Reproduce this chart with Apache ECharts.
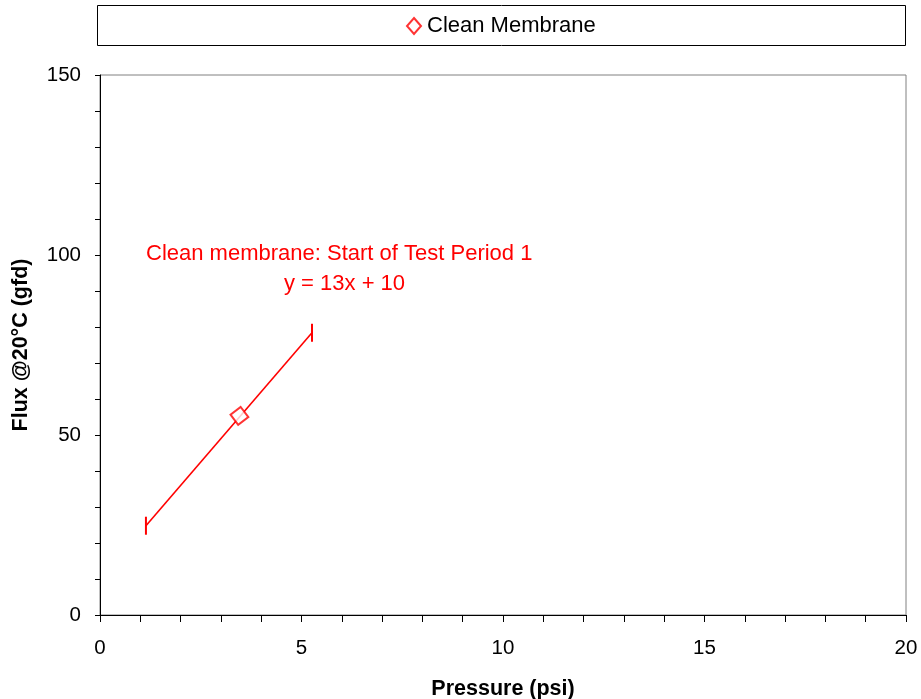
<!DOCTYPE html>
<html><head><meta charset="utf-8">
<script src="https://cdn.jsdelivr.net/npm/echarts@6/dist/echarts.min.js"></script>
<style>html,body{margin:0;padding:0;background:#fff}#c{width:921px;height:699px}</style>
</head><body><div id="c"></div>
<script>
const trendX = [1.14, 5.26];
const trendY = [24.8, 78.4];
const pointX = [3.46];
const pointY = [55.3];
const seriesName = 'Clean Membrane';
const annotation1 = 'Clean membrane: Start of Test Period 1';
const annotation2 = 'y = 13x + 10';
const xTickLabels = [0, 5, 10, 15, 20];
const yTickLabels = [0, 50, 100, 150];

const font = 'Liberation Sans, Arial, sans-serif';
const chart = echarts.init(document.getElementById('c'));
chart.setOption({
  animation: false,
  backgroundColor: '#fff',
  grid: {left: 100, right: 15, top: 75, bottom: 84, show: true, borderColor: '#808080', borderWidth: 1,
    containLabel: false, outerBoundsMode: 'none'},
  legend: {
    data: [{name: seriesName, icon: 'path://M7,0 L14,8 L7,16 L0,8 Z'}],
    left: 401, top: 10, itemWidth: 14, itemHeight: 16, itemGap: 4,
    textStyle: {fontFamily: font, fontSize: 22, color: '#000', padding: [0, 0, 0, 1]},
    selectedMode: false
  },
  graphic: [
    {type: 'rect', shape: {x: 97.5, y: 5.5, width: 808, height: 40}, style: {fill: 'none', stroke: '#000', lineWidth: 1}, z: -1},
    {type: 'text', left: 146, top: 243, style: {text: annotation1, fill: '#ff0000', font: '22px ' + font}},
    {type: 'text', left: 284, top: 273, style: {text: annotation2, fill: '#ff0000', font: '22px ' + font}}
  ],
  xAxis: {
    type: 'value', min: 0, max: 20, interval: 1,
    name: 'Pressure (psi)', nameLocation: 'middle', nameGap: 63,
    nameTextStyle: {fontFamily: font, fontSize: 21.5, fontWeight: 'bold', color: '#000'},
    axisLine: {show: true, onZero: false, lineStyle: {color: '#000', width: 1}},
    axisTick: {show: true, length: 7, lineStyle: {color: '#000'}},
    axisLabel: {margin: 23, fontFamily: font, fontSize: 20.5, color: '#000',
      formatter: v => xTickLabels.includes(v) ? String(v) : ''},
    splitLine: {show: false}
  },
  yAxis: {
    type: 'value', min: 0, max: 150, interval: 10,
    name: 'Flux @20°C (gfd)', nameLocation: 'middle', nameGap: 68,
    nameTextStyle: {fontFamily: font, fontSize: 21.5, fontWeight: 'bold', color: '#000'},
    axisLine: {show: true, onZero: false, lineStyle: {color: '#000', width: 1}},
    axisTick: {show: true, length: 5, lineStyle: {color: '#000'}},
    axisLabel: {margin: 19, fontFamily: font, fontSize: 20.5, color: '#000',
      formatter: v => yTickLabels.includes(v) ? String(v) : ''},
    splitLine: {show: false}
  },
  series: [
    {
      name: 'trend', type: 'line',
      data: trendX.map((x, i) => [x, trendY[i]]),
      lineStyle: {color: '#ff0000', width: 1.6},
      symbol: 'rect', symbolSize: [2, 18], showSymbol: true,
      itemStyle: {color: '#ff0000'}, silent: true
    },
    {
      name: seriesName, type: 'scatter',
      data: pointX.map((x, i) => [x, pointY[i]]),
      symbol: 'path://M5,0 L10,5 L5,10 L0,5 Z', symbolSize: 18, symbolRotate: -8,
      itemStyle: {color: '#fff', borderColor: '#ff0000', borderWidth: 2}, z: 5
    }
  ]
});
</script></body></html>
